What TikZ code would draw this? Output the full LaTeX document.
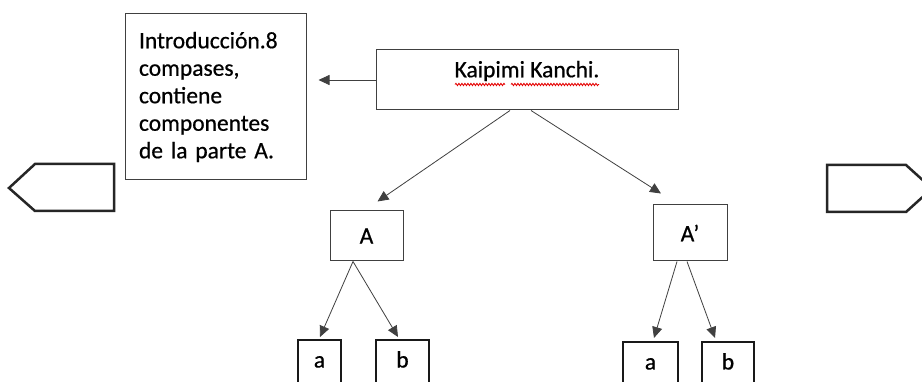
\documentclass[tikz,border=0pt]{standalone}
\usepackage{fontspec}
\setmainfont{Carlito}[FakeBold=0.6]
\newfontfamily\heavyfont{Carlito}[FakeBold=0.6]
\usetikzlibrary{arrows.meta,decorations.pathmorphing}
\tikzset{
  box/.style={draw=black!75, line width=1pt, inner sep=0pt, font=\heavyfont\fontsize{23.5}{27.5}\selectfont},
  smallbox/.style={draw=black!90, line width=2pt, inner sep=0pt, minimum width=#1, minimum height=48,
    text height=0.7em, text depth=0pt, font=\heavyfont\fontsize{23.5}{27.5}\selectfont},
  arr/.style={draw=black!75, line width=0.8pt, -{Triangle[length=11pt,width=10pt]}},
  pent/.style={draw=black!85, line width=2.5pt, line join=miter},
  wavy/.style={draw=red!90!black, line width=0.8pt, decorate,
    decoration={snake, amplitude=1.2pt, segment length=3pt}},
  txt/.style={inner sep=0pt, font=\heavyfont\fontsize{23.5}{27.5}\selectfont}
}
\begin{document}
\begin{tikzpicture}[x=1pt,y=-1pt]
\clip (0,0) rectangle (922,382);
\fill[white] (0,0) rectangle (922,382);

% intro box
\node[box, minimum width=181, minimum height=166, text width=153, inner xsep=14, align=left]
  (intro) at (215.5,97) {Introducción.8\\compases,\\contiene\\componentes\\de la parte A.};

% Kaipimi box
\node[box, minimum width=302, minimum height=60] (kbox) at (527,80) {};
\node[txt] (ktext) at (527,71) {Kaipimi Kanchi.};
\coordinate (w1s) at (455,84.5);
\coordinate (w1e) at (505,84.5);
\coordinate (w2s) at (511,84.5);
\coordinate (w2e) at (599,84.5);
\draw[wavy] (w1s) -- (w1e);
\draw[wavy] (w2s) -- (w2e);

% A and A'
\node[box, minimum width=73, minimum height=50] (A) at (366.5,236) {A};
\node[box, minimum width=74, minimum height=56] (Ap) at (690,233) {A’};

% small boxes
\node[smallbox=43] (a1) at (319.5,364) {a};
\node[smallbox=53] (b1) at (402.5,364) {b};
\node[smallbox=55] (a2) at (650.5,366) {a};
\node[smallbox=52] (b2) at (728,366) {b};

% arrows
\draw[arr, shorten >=12pt] (kbox.west) -- (kbox.west -| intro.east);
\draw[arr] ([xshift=-17pt]kbox.south) -- ([xshift=11pt,yshift=9pt]A.north);
\draw[arr] ([xshift=4pt]kbox.south) -- ([xshift=-29pt,yshift=11pt]Ap.north);
\draw[arr] ([xshift=-13.5pt]A.south) -- ([xshift=0.5pt,yshift=2pt]a1.north);
\draw[arr] ([xshift=-13.5pt]A.south) -- ([xshift=-4.5pt,yshift=2pt]b1.north);
\draw[arr] ([xshift=-13pt]Ap.south) -- ([xshift=3.5pt,yshift=3pt]a2.north);
\draw[arr] ([xshift=-3pt]Ap.south) -- ([xshift=-13pt,yshift=3pt]b2.north);

% pentagons
\draw[pent] (114,164) -- (35,164) -- (9,188) -- (35,211) -- (114,211) -- cycle;
\draw[pent] (827,165) -- (906,165) -- (932,188.5) -- (906,212) -- (827,212) -- cycle;
\end{tikzpicture}
\end{document}
